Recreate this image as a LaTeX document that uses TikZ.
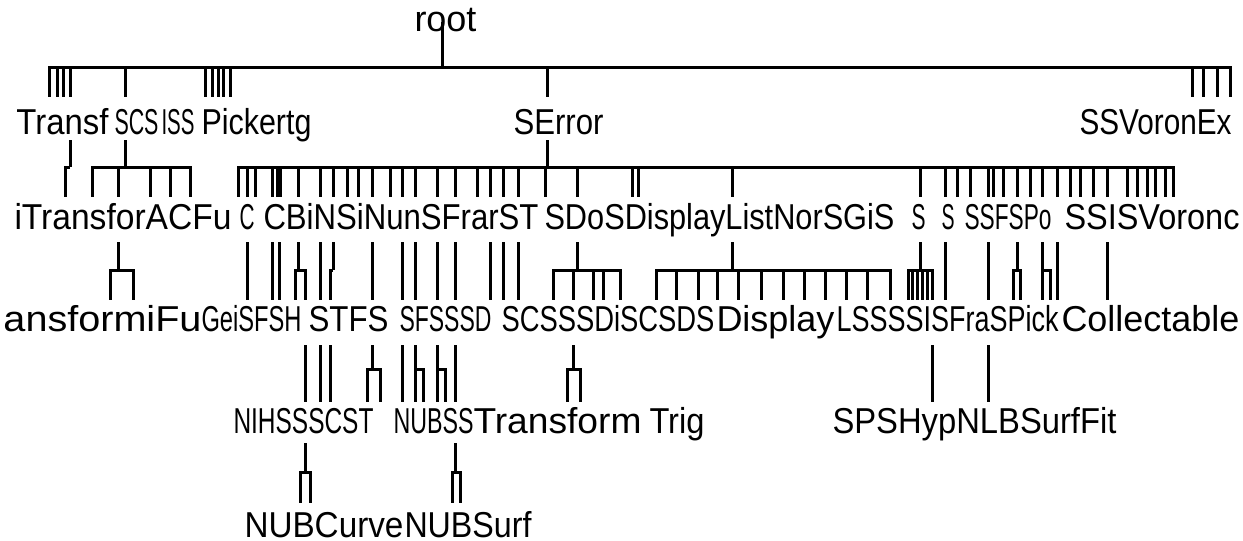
\documentclass[tikz,border=0pt]{standalone}
\usepackage{fontspec}
\usepackage{graphicx}
\setmainfont{Liberation Sans}

\newlength\pxu
\setlength\pxu{0.5pt}

% one fan of the tree: stem at #1 from #2 down to the bar at #3, legs down to #4
\newcommand{\fan}[5]{%
  \coordinate (stemtop) at (#1,#2);
  \coordinate (stembar) at (#1,#3);
  \draw (stemtop) -- (stembar);
  \foreach \leg in {#5}{
    \coordinate (legfoot) at (\leg,#4);
    \draw (stembar) -| (legfoot);
  }
}

% a run of class names, squeezed to a width of #3 px
\newcommand{\names}[5]{%
  \node[names] (#1) at (#2,#4) {\resizebox{#3\pxu}{\height}{#5}};
}

\begin{document}
\begin{tikzpicture}[x=0.5pt,y=-0.5pt,line width=1.5pt,
  names/.style={anchor=base west,inner sep=0pt,font=\fontsize{18}{20}\selectfont}]
  \useasboundingbox (0,0) rectangle (1243,541);

  % class names, row by row
  \names{root}{413}{62}{31}{root}

  \names{transf}{15}{92}{134}{Transf}
  \names{scs}{113}{44}{134}{SCS}
  \names{iss}{160}{33}{134}{ISS}
  \names{picker}{200}{110}{134}{Pickertg}
  \names{serror}{512}{90}{134}{SError}
  \names{voronex}{1078}{152}{134}{SSVoronEx}

  \names{itransfor}{13}{217}{229}{iTransforACFu}
  \names{cee}{238}{15}{229}{C}
  \names{cbins}{262}{275}{229}{CBiNSiNunSFrarST}
  \names{sdodisplay}{543}{350}{229}{SDoSDisplayListNorSGiS}
  \names{sone}{910}{14}{229}{S}
  \names{stwo}{940}{13}{229}{S}
  \names{ssfspo}{963}{87}{229}{SSFSPo}
  \names{voronc}{1063}{175}{229}{SSISVoronc}

  \names{ansform}{2}{198}{331}{ansformiFu}
  \names{geisfsh}{200}{100}{331}{GeiSFSH}
  \names{stfs}{307}{80}{331}{STFS}
  \names{sfsssd}{398}{92}{331}{SFSSSD}
  \names{scsssd}{500}{213}{331}{SCSSSDiSCSDS}
  \names{display}{715}{118}{331}{Display}
  \names{lssss}{835}{222}{331}{LSSSSISFraSPick}
  \names{collect}{1060}{178}{331}{Collectable}

  \names{nihss}{232}{140}{433}{NIHSSSCST}
  \names{nubss}{392}{80}{433}{NUBSS}
  \names{transform}{472}{168}{433}{Transform}
  \names{trig}{648}{55}{433}{Trig}
  \names{surffit}{831}{284}{433}{SPSHypNLBSurfFit}

  \names{nubcurve}{243}{159}{537}{NUBCurve}
  \names{nubsurf}{403}{127}{537}{NUBSurf}

  % root level
  \fan{442}{22}{67}{97}{49,57,63,70,125,205,212,218,223,230,547,1192,1203,1217,1230}

  % second level
  \fan{70}{140}{167}{197}{65}
  \fan{125}{140}{167}{197}{92,118,150,170,190}
  \fan{547}{140}{167}{197}{238,247,255,272,277,280,298,320,333,347,358,372,390,402,415,437,455,477,490,503,518,545,577,632,638,732,920,945,957,970,988,993,1003,1017,1030,1042,1057,1070,1080,1093,1107,1127,1137,1147,1155,1165,1173}

  % third level
  \foreach \x in {247,272,279,320,372,402,415,437,455,490,503,518,945,988,1057,1107}
    \fan{\x}{242}{270}{300}{\x};
  \fan{118}{242}{270}{300}{110,133}
  \fan{298}{242}{270}{300}{295,305}
  \fan{333}{242}{270}{300}{330}
  \fan{577}{242}{270}{300}{553,573,593,603,620}
  \fan{732}{242}{270}{300}{656,676,698,717,738,761,783,804,825,846,867,890}
  \fan{920}{242}{270}{300}{908,912,917,922,927,932}
  \fan{1017}{242}{270}{300}{1013,1020}
  \fan{1042}{242}{270}{300}{1042,1050}

  % fourth level
  \foreach \x in {305,320,330,402,455,932,988}
    \fan{\x}{345}{369}{402}{\x};
  \fan{372}{345}{369}{402}{367,380}
  \fan{415}{345}{369}{402}{415,423}
  \fan{437}{345}{369}{402}{437,445}
  \fan{573}{345}{369}{402}{567,580}

  % fifth level
  \fan{305}{443}{472}{503}{300,310}
  \fan{455}{443}{472}{503}{452,460}
\end{tikzpicture}
\end{document}
